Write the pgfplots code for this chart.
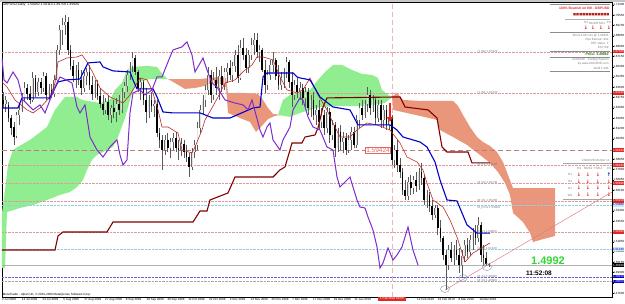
\documentclass[border=0pt]{standalone}
\usepackage{fontspec}
\setmainfont{Liberation Sans}
\newfontfamily\dejavu{DejaVu Sans}
\usepackage{pgfplots}
\pgfplotsset{compat=1.18}
\usepackage{pgfplotstable}
\usetikzlibrary{arrows.meta}

\definecolor{cloudgreen}{RGB}{144,238,144}
\definecolor{cloudsalmon}{RGB}{233,150,122}
\definecolor{kijun}{RGB}{0,0,205}
\definecolor{tenkan}{RGB}{190,40,40}
\definecolor{maroonline}{RGB}{128,0,0}
\definecolor{chikou}{RGB}{125,45,205}
\definecolor{wick}{RGB}{90,90,90}
\definecolor{bullfill}{RGB}{225,225,225}
\definecolor{dotred}{RGB}{222,155,155}
\definecolor{dashred}{RGB}{190,125,125}
\definecolor{crossred}{RGB}{240,178,178}
\definecolor{lcyan}{RGB}{150,205,225}
\definecolor{sblue}{RGB}{100,100,210}
\definecolor{bigreen}{RGB}{50,215,50}
\definecolor{labelred}{RGB}{225,40,40}
\definecolor{boxred}{RGB}{230,100,100}
\definecolor{steelish}{RGB}{120,150,180}
\definecolor{trendred}{RGB}{225,120,120}
\definecolor{txtgray}{RGB}{120,120,120}
\definecolor{darkgreen}{RGB}{0,120,0}

\newcommand\tnf{\fontsize{3}{3.4}\selectfont}
\newcommand\smf{\fontsize{3.4}{3.8}\selectfont}
\newcommand\arf{\dejavu\bfseries\fontsize{5}{5}\selectfont}

\pgfplotstableread{
x o h l c
3.0 1.6355 1.6421 1.6289 1.6322
5.7 1.6322 1.6388 1.6255 1.6355
8.4 1.6314 1.6338 1.6173 1.6206
11.1 1.6206 1.6231 1.6066 1.6124
13.8 1.6132 1.6173 1.5983 1.6049
16.5 1.6058 1.6255 1.6041 1.6231
19.2 1.6231 1.6314 1.6149 1.6272
21.9 1.6272 1.6413 1.6255 1.6371
24.6 1.6371 1.6503 1.6338 1.6454
27.3 1.6454 1.6487 1.6355 1.6405
30.0 1.6405 1.6471 1.6322 1.6355
32.7 1.6355 1.6586 1.6338 1.6537
35.4 1.6537 1.6562 1.6379 1.6421
38.1 1.6421 1.6537 1.6388 1.6503
40.8 1.6503 1.6537 1.6405 1.6454
43.5 1.6454 1.6586 1.6421 1.6554
46.2 1.6554 1.6578 1.6355 1.6396
48.9 1.6396 1.6487 1.6355 1.6438
51.6 1.6438 1.6487 1.6371 1.6405
54.3 1.6405 1.6562 1.6379 1.6520
57.0 1.6520 1.6809 1.6487 1.6768
59.7 1.6768 1.6975 1.6727 1.6933
62.4 1.6933 1.7032 1.6809 1.6975
65.1 1.6975 1.7057 1.6892 1.6999
67.8 1.6999 1.7040 1.6727 1.6768
70.5 1.6768 1.6809 1.6603 1.6636
73.2 1.6636 1.6685 1.6503 1.6554
75.9 1.6554 1.6644 1.6454 1.6603
78.6 1.6603 1.6668 1.6479 1.6520
81.3 1.6520 1.6603 1.6396 1.6454
84.0 1.6454 1.6586 1.6421 1.6554
86.7 1.6554 1.6619 1.6479 1.6586
89.4 1.6586 1.6644 1.6438 1.6479
92.1 1.6479 1.6554 1.6355 1.6405
94.8 1.6405 1.6520 1.6371 1.6487
97.5 1.6487 1.6520 1.6355 1.6388
100.2 1.6388 1.6454 1.6289 1.6322
102.9 1.6322 1.6396 1.6231 1.6272
105.6 1.6272 1.6371 1.6239 1.6338
108.3 1.6338 1.6388 1.6190 1.6231
111.0 1.6231 1.6314 1.6165 1.6289
113.7 1.6289 1.6355 1.6206 1.6255
116.4 1.6255 1.6371 1.6173 1.6322
119.1 1.6322 1.6396 1.6231 1.6272
121.8 1.6272 1.6454 1.6247 1.6421
124.5 1.6421 1.6503 1.6371 1.6471
127.2 1.6471 1.6603 1.6421 1.6562
129.9 1.6562 1.6668 1.6520 1.6636
132.6 1.6636 1.6751 1.6586 1.6702
135.3 1.6702 1.6727 1.6562 1.6586
138.0 1.6586 1.6603 1.6421 1.6454
140.7 1.6454 1.6537 1.6355 1.6503
143.4 1.6503 1.6520 1.6314 1.6355
146.1 1.6355 1.6454 1.6165 1.6255
148.8 1.6255 1.6396 1.6206 1.6355
151.5 1.6355 1.6421 1.6255 1.6306
154.2 1.6306 1.6355 1.6214 1.6322
156.9 1.6322 1.6355 1.6049 1.6082
159.6 1.6082 1.6124 1.5958 1.6025
162.3 1.6025 1.6066 1.5777 1.5942
165.0 1.5942 1.6066 1.5901 1.6025
167.7 1.6025 1.6082 1.5925 1.5958
170.4 1.5958 1.6041 1.5876 1.6008
173.1 1.6008 1.6082 1.5942 1.6041
175.8 1.6041 1.6090 1.5925 1.5958
178.5 1.5958 1.6025 1.5859 1.5942
181.2 1.5942 1.6041 1.5893 1.5992
183.9 1.5992 1.6025 1.5876 1.5925
186.6 1.5925 1.5983 1.5842 1.5884
189.3 1.5884 1.5917 1.5719 1.5801
192.0 1.5801 1.5958 1.5777 1.5925
194.7 1.5925 1.6025 1.5876 1.5983
197.4 1.5983 1.6173 1.5942 1.6124
200.1 1.6124 1.6314 1.6082 1.6272
202.8 1.6272 1.6396 1.6231 1.6355
205.5 1.6355 1.6479 1.6297 1.6438
208.2 1.6438 1.6627 1.6396 1.6562
210.9 1.6562 1.6603 1.6330 1.6396
213.6 1.6396 1.6586 1.6355 1.6520
216.3 1.6520 1.6627 1.6396 1.6454
219.0 1.6454 1.6603 1.6355 1.6554
221.7 1.6554 1.6636 1.6421 1.6479
224.4 1.6479 1.6619 1.6438 1.6586
227.1 1.6586 1.6660 1.6495 1.6619
229.8 1.6619 1.6685 1.6520 1.6562
232.5 1.6562 1.6668 1.6503 1.6636
235.2 1.6636 1.6768 1.6586 1.6727
237.9 1.6727 1.6809 1.6495 1.6537
240.6 1.6537 1.6851 1.6520 1.6784
243.3 1.6784 1.6867 1.6685 1.6727
246.0 1.6727 1.6784 1.6578 1.6619
248.7 1.6619 1.6768 1.6578 1.6727
251.4 1.6727 1.6867 1.6685 1.6809
254.1 1.6809 1.6908 1.6727 1.6851
256.8 1.6851 1.6908 1.6702 1.6751
259.5 1.6751 1.6809 1.6668 1.6768
262.2 1.6768 1.6784 1.6586 1.6603
264.9 1.6603 1.6685 1.6413 1.6479
267.6 1.6479 1.6603 1.6438 1.6562
270.3 1.6562 1.6685 1.6520 1.6644
273.0 1.6644 1.6751 1.6586 1.6685
275.7 1.6685 1.6702 1.6520 1.6554
278.4 1.6554 1.6644 1.6438 1.6479
281.1 1.6479 1.6586 1.6438 1.6537
283.8 1.6537 1.6619 1.6454 1.6586
286.5 1.6586 1.6710 1.6537 1.6668
289.2 1.6668 1.6685 1.6454 1.6503
291.9 1.6503 1.6586 1.6297 1.6396
294.6 1.6396 1.6520 1.6355 1.6479
297.3 1.6479 1.6537 1.6371 1.6421
300.0 1.6421 1.6503 1.6355 1.6454
302.7 1.6454 1.6487 1.6314 1.6371
305.4 1.6371 1.6462 1.6297 1.6421
308.1 1.6421 1.6454 1.6231 1.6289
310.8 1.6289 1.6396 1.6214 1.6355
313.5 1.6355 1.6421 1.6190 1.6231
316.2 1.6231 1.6314 1.6149 1.6272
318.9 1.6272 1.6355 1.6107 1.6173
321.6 1.6173 1.6289 1.6124 1.6231
324.3 1.6231 1.6272 1.6066 1.6124
327.0 1.6124 1.6297 1.6082 1.6255
329.7 1.6255 1.6289 1.6000 1.6066
332.4 1.6066 1.6190 1.6025 1.6149
335.1 1.6149 1.6173 1.5884 1.5958
337.8 1.5958 1.6124 1.5925 1.6090
340.5 1.6090 1.6149 1.5942 1.6008
343.2 1.6008 1.6090 1.5917 1.6041
345.9 1.6041 1.6082 1.5901 1.5942
348.6 1.5942 1.6066 1.5917 1.6025
351.3 1.6025 1.6132 1.5942 1.6090
354.0 1.6090 1.6132 1.5958 1.5983
356.7 1.5983 1.6231 1.5958 1.6190
359.4 1.6190 1.6330 1.6124 1.6289
362.1 1.6289 1.6355 1.6190 1.6231
364.8 1.6231 1.6355 1.6206 1.6322
367.5 1.6322 1.6462 1.6255 1.6396
370.2 1.6396 1.6438 1.6231 1.6289
372.9 1.6289 1.6396 1.6255 1.6355
375.6 1.6355 1.6379 1.6149 1.6206
378.3 1.6206 1.6355 1.6173 1.6314
381.0 1.6314 1.6355 1.6124 1.6190
383.7 1.6190 1.6314 1.6132 1.6272
386.4 1.6272 1.6314 1.6107 1.6149
389.1 1.6149 1.6255 1.6107 1.6206
391.8 1.6206 1.6231 1.5818 1.5859
394.5 1.5859 1.5983 1.5793 1.5942
397.2 1.5942 1.6025 1.5760 1.5818
399.9 1.5818 1.5876 1.5711 1.5760
402.6 1.5760 1.5793 1.5570 1.5612
405.3 1.5612 1.5694 1.5529 1.5562
408.0 1.5562 1.5719 1.5529 1.5677
410.7 1.5677 1.5736 1.5570 1.5628
413.4 1.5628 1.5728 1.5579 1.5694
416.1 1.5694 1.5760 1.5595 1.5645
418.8 1.5645 1.5793 1.5612 1.5760
421.5 1.5760 1.5834 1.5653 1.5711
424.2 1.5711 1.5736 1.5488 1.5529
426.9 1.5529 1.5612 1.5463 1.5570
429.6 1.5570 1.5595 1.5429 1.5480
432.3 1.5480 1.5529 1.5364 1.5405
435.0 1.5405 1.5488 1.5380 1.5463
437.7 1.5463 1.5488 1.5240 1.5298
440.4 1.5298 1.5364 1.5182 1.5215
443.1 1.5215 1.5232 1.5033 1.5075
445.8 1.5075 1.5116 1.4786 1.4992
448.5 1.4992 1.5157 1.4951 1.5116
451.2 1.5116 1.5182 1.5016 1.5050
453.9 1.5050 1.5157 1.4992 1.5116
456.6 1.5116 1.5199 1.5033 1.5075
459.3 1.5075 1.5132 1.4926 1.4992
462.0 1.4992 1.5116 1.4885 1.5067
464.7 1.5067 1.5199 1.5016 1.5157
467.4 1.5157 1.5215 1.5050 1.5099
470.1 1.5099 1.5240 1.5067 1.5199
472.8 1.5199 1.5298 1.5116 1.5264
475.5 1.5264 1.5323 1.5157 1.5215
478.2 1.5215 1.5388 1.5182 1.5323
480.9 1.5323 1.5347 1.5016 1.5075
483.6 1.5075 1.5157 1.4984 1.5050
486.3 1.5050 1.5099 1.4984 1.5004
489.0 1.5004 1.5011 1.4976 1.4992
}\candles

\begin{document}
\begin{tikzpicture}
\fill[black!22] (-2pt,295.2pt) rectangle (623pt,297pt);
\begin{axis}[
  at={(0,0)}, anchor=south west,
  scale only axis, width=610pt, height=295pt,
  xmin=2, xmax=612, ymin=1.4728, ymax=1.7164,
  axis line style={line width=0.4pt, black},
  clip mode=individual,
  xtick={2,21.8,42.6,63.4,84.2,105,125.8,146.6,167.4,188.2,209,229.8,250.6,271.4,292.2,313,333.8,354.6,375.4,396.2,417,437.8,458.6,479.4},
  xticklabels={2 Jul 2009,14 Jul 2009,24 Jul 2009,5 Aug 2009,17 Aug 2009,27 Aug 2009,8 Sep 2009,18 Sep 2009,30 Sep 2009,12 Oct 2009,22 Oct 2009,3 Nov 2009,13 Nov 2009,25 Nov 2009,7 Dec 2009,17 Dec 2009,29 Dec 2009,11 Jan 2010,{},{},12 Feb 2010,24 Feb 2010,8 Mar 2010,18 Mar 2010},
  xtick pos=left, ytick pos=right, yticklabel pos=right,
  tick align=outside, major tick length=1.5pt,
  tick style={line width=0.3pt, black},
  ytick={1.4760,1.4845,...,1.7150},
  scaled y ticks=false,
  xticklabel style={font=\tnf, anchor=north west, xshift=-0.6pt, yshift=0.6pt, inner sep=0.5pt},
  yticklabel style={font=\tnf, anchor=west, xshift=-0.8pt, inner sep=0.5pt, /pgf/number format/.cd, fixed, fixed zerofill, precision=5, assume math mode=true},
]

% ---- Ichimoku cloud ----
\addplot[fill=cloudgreen, draw=none] coordinates {
(2,1.5422) (5,1.5612) (8,1.5818) (13,1.5942) (16,1.5959) (30,1.6025) (47,1.6132) (55,1.6273) (65,1.6380) (77,1.6380) (82,1.6355) (100,1.6330) (110,1.6355) (115,1.6438) (122,1.6495) (127,1.6603) (133,1.6628) (147,1.6636) (157,1.6628) (163,1.6562) (168,1.6528) (160,1.6528) (150,1.6528) (140,1.6504) (134,1.6454) (130,1.6355) (125,1.6206) (118,1.6049) (113,1.5967) (103,1.5925) (97,1.5901) (92,1.5860) (87,1.5777) (83,1.5694) (77,1.5636) (70,1.5595) (60,1.5571) (47,1.5529) (33,1.5488) (20,1.5463) (7,1.5430) (5,1.4967) (2,1.4967)} --cycle;
\addplot[fill=cloudsalmon, draw=none] coordinates {
(168,1.6528) (185,1.6528) (200,1.6528) (210,1.6537) (220,1.6545) (226,1.6537) (228,1.6413) (245,1.6413) (258,1.6405) (263,1.6355) (268,1.6289) (273,1.6240) (280,1.6231) (275,1.6223) (268,1.6198) (260,1.6124) (256,1.6091) (250,1.6173) (240,1.6206) (228,1.6248) (226,1.6462) (220,1.6487) (212,1.6495) (205,1.6471) (195,1.6454) (185,1.6446) (175,1.6495)} --cycle;
\addplot[fill=cloudgreen, draw=none] coordinates {
(278,1.6231) (283,1.6355) (290,1.6397) (300,1.6421) (310,1.6438) (318,1.6521) (325,1.6586) (333,1.6644) (342,1.6644) (352,1.6603) (362,1.6570) (372,1.6562) (378,1.6537) (382,1.6438) (388,1.6397) (392,1.6380) (385,1.6330) (375,1.6314) (360,1.6305) (340,1.6305) (320,1.6297) (310,1.6273) (300,1.6248) (290,1.6215)} --cycle;
\addplot[fill=cloudsalmon, draw=none] coordinates {
(392,1.6380) (397,1.6413) (403,1.6355) (420,1.6347) (453,1.6347) (458,1.6306) (463,1.6231) (470,1.6132) (477,1.6049) (483,1.6008) (490,1.5975) (497,1.5925) (503,1.5843) (508,1.5736) (513,1.5628) (555,1.5628) (555,1.5232) (540,1.5199) (533,1.5182) (530,1.5257) (523,1.5347) (513,1.5422) (510,1.5571) (505,1.5669) (498,1.5760) (490,1.5835) (480,1.5901) (467,1.5984) (453,1.6049) (440,1.6107) (437,1.6190) (420,1.6223) (393,1.6273)} --cycle;

% ---- horizontal levels ----
\addplot[dotred, densely dotted, line width=0.4pt] coordinates {(2,1.6752) (612,1.6752)};
\addplot[dotred, densely dotted, line width=0.4pt] coordinates {(2,1.6413) (612,1.6413)};
\addplot[dashred, dash pattern=on 5pt off 3pt, line width=0.5pt] coordinates {(2,1.5942) (612,1.5942)};
\addplot[dotred, densely dotted, line width=0.4pt] coordinates {(2,1.5818) (612,1.5818)};
\addplot[dotred, densely dotted, line width=0.4pt] coordinates {(2,1.5669) (612,1.5669)};
\addplot[dotred, densely dotted, line width=0.4pt] coordinates {(2,1.5521) (612,1.5521)};
\addplot[lcyan, densely dotted, line width=0.4pt] coordinates {(2,1.5488) (612,1.5488)};
\addplot[dotred, densely dotted, line width=0.4pt] coordinates {(2,1.5265) (612,1.5265)};
\addplot[lcyan, densely dotted, line width=0.4pt] coordinates {(2,1.5124) (612,1.5124)};
\addplot[black!30, line width=0.4pt] coordinates {(2,1.4992) (612,1.4992)};
\addplot[sblue, densely dotted, line width=0.4pt] coordinates {(2,1.4893) (612,1.4893)};
\addplot[black!35, densely dotted, line width=0.4pt] coordinates {(2,1.4860) (612,1.4860)};

% crosshair
\draw[crossred, dash pattern=on 5pt off 3pt, line width=0.8pt] (axis cs:392,1.4728) -- (axis cs:392,1.7164);

% ---- candles ----
\addplot[quiver={u=0, v=\thisrow{l}-\thisrow{h}}, wick, line width=0.45pt] table[x=x, y=h] {\candles};
\addplot[quiver={u=0, v=\thisrow{c}-\thisrow{o}}, black, line width=1.7pt, line cap=butt,
  x filter/.expression={\thisrow{c}<\thisrow{o} ? x : nan}] table[x=x, y=o] {\candles};
\addplot[quiver={u=0, v=\thisrow{c}-\thisrow{o}}, black!60, line width=1.7pt, line cap=butt,
  x filter/.expression={\thisrow{c}<\thisrow{o} ? nan : x}] table[x=x, y=o] {\candles};
\addplot[quiver={u=0, v=\thisrow{c}-\thisrow{o}}, bullfill, line width=0.9pt, line cap=butt,
  x filter/.expression={\thisrow{c}<\thisrow{o} ? nan : x}] table[x=x, y=o] {\candles};

% ---- indicator lines ----
\addplot[maroonline, line width=1.1pt] coordinates {
(2,1.5116) (55,1.5116) (58,1.5232) (63,1.5265) (107,1.5265) (113,1.5347) (193,1.5347) (200,1.5438) (207,1.5438) (210,1.5529) (228,1.5587) (235,1.5719) (273,1.5719) (280,1.5777) (285,1.5802) (290,1.5942) (292,1.6000) (302,1.6000) (305,1.6049) (315,1.6066) (318,1.6124) (323,1.6297) (327,1.6372) (400,1.6380) (405,1.6297) (428,1.6273) (437,1.6206) (442,1.5967) (447,1.5925) (468,1.5925) (472,1.5835) (490,1.5835)};
\addplot[tenkan, line width=0.6pt] coordinates {
(2,1.6504) (7,1.6462) (15,1.6355) (27,1.6273) (33,1.6248) (40,1.6289) (50,1.6380) (55,1.6495) (58,1.6669) (67,1.6702) (77,1.6710) (82,1.6727) (87,1.6669) (93,1.6578) (100,1.6454) (110,1.6380) (123,1.6330) (130,1.6397) (137,1.6495) (140,1.6537) (147,1.6521) (152,1.6438) (158,1.6273) (162,1.6132) (168,1.6132) (178,1.6082) (182,1.5942) (192,1.5917) (195,1.5967) (202,1.6107) (205,1.6190) (212,1.6289) (218,1.6380) (225,1.6495) (235,1.6521) (245,1.6603) (252,1.6644) (257,1.6710) (263,1.6710) (273,1.6686) (280,1.6545) (287,1.6438) (297,1.6413) (303,1.6438) (310,1.6537) (318,1.6397) (327,1.6273) (333,1.6165) (340,1.6049) (350,1.6049) (357,1.6107) (367,1.6165) (377,1.6149) (390,1.6107) (400,1.6000) (407,1.5884) (417,1.5843) (423,1.5777) (427,1.5669) (433,1.5529) (443,1.5471) (450,1.5364) (457,1.5223) (465,1.5017) (473,1.5091) (483,1.5141) (490,1.5174)};
\addplot[kijun, line width=1.1pt] coordinates {
(2,1.6289) (18,1.6289) (22,1.6372) (50,1.6372) (58,1.6504) (67,1.6521) (80,1.6528) (88,1.6661) (100,1.6669) (103,1.6628) (113,1.6595) (130,1.6586) (133,1.6521) (137,1.6446) (153,1.6446) (157,1.6380) (163,1.6256) (173,1.6248) (200,1.6248) (213,1.6206) (230,1.6206) (253,1.6289) (260,1.6297) (263,1.6545) (267,1.6578) (293,1.6578) (297,1.6545) (300,1.6537) (310,1.6521) (320,1.6380) (333,1.6297) (350,1.6273) (358,1.6149) (390,1.6149) (397,1.6107) (403,1.6049) (420,1.6008) (427,1.5967) (435,1.5843) (440,1.5694) (447,1.5529) (457,1.5521) (467,1.5323) (477,1.5256) (490,1.5256)};
\addplot[chikou, line width=1.0pt] coordinates {
(2,1.6702) (4,1.6521) (7,1.6495) (13,1.6586) (18,1.6521) (23,1.6355) (33,1.6273) (40,1.6314) (45,1.6248) (50,1.6355) (55,1.6462) (60,1.6545) (66,1.6521) (72,1.6495) (77,1.6297) (80,1.6248) (85,1.6314) (90,1.6049) (97,1.5942) (103,1.5884) (110,1.5967) (117,1.6025) (120,1.5901) (123,1.5818) (127,1.5860) (130,1.6248) (133,1.6413) (140,1.6438) (145,1.6397) (152,1.6438) (157,1.6545) (162,1.6545) (170,1.6710) (173,1.6768) (182,1.6793) (187,1.6834) (192,1.6727) (195,1.6586) (203,1.6702) (207,1.6603) (212,1.6495) (217,1.6462) (225,1.6355) (235,1.6330) (243,1.6314) (248,1.6273) (252,1.6355) (256,1.6231) (260,1.6107) (263,1.6049) (267,1.6132) (270,1.6165) (273,1.6025) (280,1.5942) (283,1.6025) (290,1.6132) (293,1.6273) (297,1.6330) (300,1.6372) (303,1.6355) (308,1.6215) (313,1.6132) (320,1.6107) (327,1.5967) (333,1.5942) (337,1.5719) (340,1.5636) (347,1.5694) (350,1.5719) (353,1.5636) (357,1.5529) (360,1.5471) (365,1.5463) (368,1.5389) (373,1.5281) (377,1.5141) (380,1.4967) (383,1.5009) (388,1.5133) (393,1.5033) (397,1.5075) (402,1.5141) (408,1.5306) (413,1.5116) (418,1.4992)};

% trend line
\addplot[trendred, line width=0.45pt] coordinates {(445,1.4786) (612,1.5595)};

% low markers
\draw[steelish, line width=0.4pt] (axis cs:445,1.4794) ellipse [x radius=4.5pt, y radius=3.5pt];
\draw[steelish, line width=0.4pt] (axis cs:463,1.4885) ellipse [x radius=4pt, y radius=3.5pt];
\draw[steelish, line width=0.4pt] (axis cs:487,1.4975) ellipse [x radius=4.5pt, y radius=3.5pt];

% signal arrow
\draw[labelred, line width=2.2pt, -{Latex[width=8pt,length=5pt]}] (axis cs:390,1.6330) -- (axis cs:390,1.6173);
\node[draw=boxred, fill=white, text=boxred, font=\fontsize{6.5}{7}\selectfont, inner sep=0.6pt] at (axis cs:378,1.5942) {1.59424};

% level labels
\node[anchor=west, font=\tnf, text=txtgray, inner sep=0.3pt] at (axis cs:477,1.6752) {H\_W2 1.67520};
\node[anchor=west, font=\tnf, text=txtgray, inner sep=0.3pt] at (axis cs:477,1.6413) {H\_W1 1.64130};
\node[anchor=west, font=\tnf, text=txtgray, inner sep=0.3pt] at (axis cs:477,1.5818) {M\_R1 1.58180};
\node[anchor=west, font=\tnf, text=txtgray, inner sep=0.3pt] at (axis cs:477,1.5669) {M\_Q2 1.56740};
\node[anchor=west, font=\tnf, text=txtgray, inner sep=0.3pt] at (axis cs:477,1.5521) {M\_Q1 1.55260};
\node[anchor=west, font=\tnf, text=txtgray, inner sep=0.3pt] at (axis cs:477,1.5465) {M\_Pivot 1.54800};
\node[anchor=west, font=\tnf, text=txtgray, inner sep=0.3pt] at (axis cs:477,1.5265) {D\_S1 1.52860};
\node[anchor=west, font=\tnf, text=txtgray, inner sep=0.3pt] at (axis cs:477,1.5124) {D\_S2 1.51240};
\node[anchor=west, font=\tnf, text=txtgray, inner sep=0.3pt] at (axis cs:477,1.4893) {M\_S1 1.48930};
\node[anchor=west, font=\tnf, text=txtgray, inner sep=0.3pt] at (axis cs:477,1.4860) {M\_S2 1.48600};

% big price and time
\node[font=\fontsize{11}{12}\selectfont\bfseries, text=bigreen] at (axis cs:548,1.5025) {1.4992};
\node[font=\fontsize{6.5}{7}\selectfont\bfseries, text=black] at (axis cs:539,1.4922) {11:52:08};

% header and footer text
\node[anchor=north west, font=\smf, inner sep=0.5pt] at (axis description cs:0,1) {GBPUSD,Daily\ \ 1.50042 1.50110 1.49758 1.49920};
\node[anchor=south west, font=\tnf, inner sep=0.8pt] at (axis description cs:0,0) {MetaTrader - Alpari UK, © 2001-2009 MetaQuotes Software Corp.};

% top-right panel
\draw[black!45, line width=0.3pt] (axis cs:550,1.7148) -- (axis cs:610,1.7148);
\node[anchor=east, font=\smf\bfseries, text=labelred, inner sep=0.3pt] at (axis cs:610,1.7115) {100\% Bearish on 8/8 - GBPUSD};
\node[anchor=east, font=\dejavu\fontsize{3.2}{3.4}\selectfont, text=labelred!80!black, inner sep=0.3pt] at (axis cs:610,1.7057) {■■■■■■■■■■■■};
\draw[black!30, line width=0.3pt] (axis cs:565,1.7024) -- (axis cs:610,1.7024);
\node[font=\tnf, text=txtgray, inner sep=0.2pt] at (axis cs:586,1.6991) {H4};
\node[font=\tnf, text=txtgray, inner sep=0.2pt] at (axis cs:593,1.6991) {HA/KJ};
\node[font=\tnf, text=txtgray, inner sep=0.2pt] at (axis cs:601,1.6991) {TS/KJ};
\node[font=\tnf, text=txtgray, inner sep=0.2pt] at (axis cs:609,1.6991) {CS};
\node[font=\arf, text=labelred, inner sep=0pt] at (axis cs:586,1.6950) {↓};
\node[font=\arf, text=labelred, inner sep=0pt] at (axis cs:593,1.6950) {↓};
\node[font=\arf, text=labelred, inner sep=0pt] at (axis cs:601,1.6950) {↓};
\node[font=\arf, text=labelred, inner sep=0pt] at (axis cs:609,1.6950) {↓};
\draw[black!45, line width=0.3pt] (axis cs:550,1.6917) -- (axis cs:610,1.6917);
\node[anchor=east, font=\tnf, text=txtgray, inner sep=0.2pt] at (axis cs:609,1.6884) {Short 3.00 Lots @ 1.59424};
\node[anchor=east, font=\tnf, text=txtgray, inner sep=0.2pt] at (axis cs:609,1.6851) {Pips Earned: 952};
\node[anchor=east, font=\tnf, text=txtgray, inner sep=0.2pt] at (axis cs:609,1.6818) {TEK Value: 1};
\node[anchor=east, font=\tnf, text=txtgray, inner sep=0.2pt] at (axis cs:609,1.6785) {ESI: 9/9};
\draw[black!45, line width=0.3pt] (axis cs:550,1.6760) -- (axis cs:610,1.6760);
\node[anchor=east, font=\smf\bfseries, text=darkgreen, inner sep=0.2pt] at (axis cs:609,1.6733) {Price: 1.49910};
\draw[black!45, line width=0.3pt] (axis cs:550,1.6710) -- (axis cs:610,1.6710);
\node[anchor=east, font=\tnf, text=txtgray, inner sep=0.2pt] at (axis cs:609,1.6685) {ichiDOVE - Trading System};
\node[anchor=east, font=\tnf, text=txtgray, inner sep=0.2pt] at (axis cs:609,1.6652) {by www.ichiDOVE.com};
\node[anchor=east, font=\tnf, text=txtgray, inner sep=0.2pt] at (axis cs:609,1.6619) {build 1.103};
\draw[black!45, line width=0.3pt] (axis cs:550,1.6595) -- (axis cs:610,1.6595);

% middle-right monitor panel
\node[anchor=east, font=\tnf, text=txtgray, inner sep=0.2pt] at (axis cs:610,1.5853) {ichiDOVE Monitor v1};
\draw[black!35, line width=0.3pt] (axis cs:563,1.5835) -- (axis cs:612,1.5835);
\node[font=\tnf, text=txtgray, inner sep=0.2pt] at (axis cs:579,1.5793) {H4};
\node[font=\tnf, text=txtgray, inner sep=0.2pt] at (axis cs:588,1.5793) {HA/KJ};
\node[font=\tnf, text=txtgray, inner sep=0.2pt] at (axis cs:598,1.5793) {TS/KJ};
\node[font=\tnf, text=txtgray, inner sep=0.2pt] at (axis cs:609,1.5793) {CS};
\node[font=\tnf, text=txtgray, inner sep=0.2pt] at (axis cs:570,1.5736) {H1};
\node[font=\tnf, text=txtgray, inner sep=0.2pt] at (axis cs:570,1.5678) {H4};
\node[font=\tnf, text=txtgray, inner sep=0.2pt] at (axis cs:570,1.5628) {D1};
\node[font=\tnf, text=txtgray, inner sep=0.2pt] at (axis cs:570,1.5570) {W1};
\node[font=\arf, text=labelred, inner sep=0pt] at (axis cs:579,1.5736) {↓};
\node[font=\arf, text=labelred, inner sep=0pt] at (axis cs:588,1.5736) {↓};
\node[font=\arf, text=labelred, inner sep=0pt] at (axis cs:598,1.5736) {↓};
\node[font=\arf, text=kijun, inner sep=0pt] at (axis cs:609,1.5736) {↑};
\node[font=\arf, text=labelred, inner sep=0pt] at (axis cs:579,1.5678) {↓};
\node[font=\arf, text=labelred, inner sep=0pt] at (axis cs:588,1.5678) {↓};
\node[font=\arf, text=labelred, inner sep=0pt] at (axis cs:598,1.5678) {↓};
\node[font=\arf, text=labelred, inner sep=0pt] at (axis cs:609,1.5678) {↓};
\node[font=\arf, text=labelred, inner sep=0pt] at (axis cs:579,1.5628) {↓};
\node[font=\arf, text=labelred, inner sep=0pt] at (axis cs:588,1.5628) {↓};
\node[font=\arf, text=labelred, inner sep=0pt] at (axis cs:598,1.5628) {↓};
\node[font=\arf, text=labelred, inner sep=0pt] at (axis cs:609,1.5628) {↓};
\node[font=\arf, text=labelred, inner sep=0pt] at (axis cs:579,1.5570) {↓};
\node[font=\arf, text=labelred, inner sep=0pt] at (axis cs:588,1.5570) {↓};
\node[font=\arf, text=labelred, inner sep=0pt] at (axis cs:598,1.5570) {↓};
\node[font=\arf, text=labelred, inner sep=0pt] at (axis cs:609,1.5570) {↓};
\draw[black!35, line width=0.3pt] (axis cs:563,1.5537) -- (axis cs:612,1.5537);

% right-axis price boxes
\node[anchor=west, fill=labelred, text=white, font=\tnf, inner sep=0.5pt] at (axis cs:612.3,1.6752) {1.67520};
\node[anchor=west, fill=labelred, text=white, font=\tnf, inner sep=0.5pt] at (axis cs:612.3,1.6413) {1.64130};
\node[anchor=west, fill=labelred, text=white, font=\tnf, inner sep=0.5pt] at (axis cs:612.3,1.5942) {1.59424};
\node[anchor=west, fill=labelred, text=white, font=\tnf, inner sep=0.5pt] at (axis cs:612.3,1.5818) {1.58180};
\node[anchor=west, fill=labelred, text=white, font=\tnf, inner sep=0.5pt] at (axis cs:612.3,1.5669) {1.56690};
\node[anchor=west, fill=labelred, text=white, font=\tnf, inner sep=0.5pt] at (axis cs:612.3,1.5521) {1.55210};
\node[anchor=west, fill=labelred, text=white, font=\tnf, inner sep=0.5pt] at (axis cs:612.3,1.5265) {1.52650};
\node[anchor=west, fill=lcyan!50, text=kijun, font=\tnf, inner sep=0.5pt] at (axis cs:612.3,1.5488) {1.54880};
\node[anchor=west, fill=lcyan!50, text=kijun, font=\tnf, inner sep=0.5pt] at (axis cs:612.3,1.5124) {1.51240};
\node[anchor=west, fill=black, text=white, font=\tnf, inner sep=0.5pt] at (axis cs:612.3,1.4992) {1.49920};
\node[anchor=west, fill=kijun, text=white, font=\tnf, inner sep=0.4pt] at (axis cs:612.3,1.4895) {1.48930};
\node[anchor=west, fill=kijun, text=white, font=\tnf, inner sep=0.4pt] at (axis cs:612.3,1.4858) {1.48600};

% date box at crosshair
\node[anchor=north, fill=labelred, text=white, font=\tnf, inner sep=0.6pt, minimum width=28pt] at (axis cs:392,1.4728) {1 Feb 2010 00:00};
\end{axis}
\pgfresetboundingbox
\path[use as bounding box] (-2pt,-7pt) rectangle (623pt,297pt);
\end{tikzpicture}
\end{document}
